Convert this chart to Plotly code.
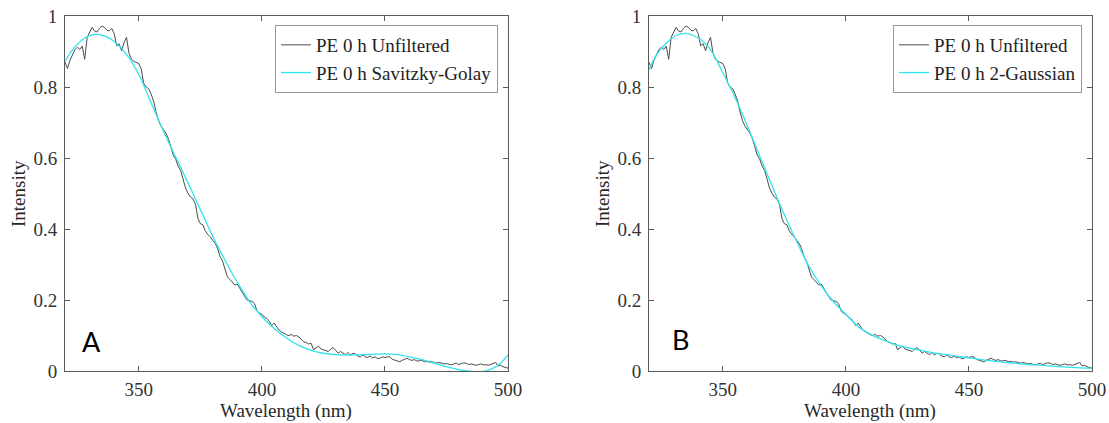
import plotly.graph_objects as go

# ---------------- data ----------------
wavelength = list(range(320, 501))
unfiltered = [
    0.870, 0.852, 0.875, 0.890, 0.905, 0.912, 0.906, 0.915, 0.878, 0.940,  # 320-329
    0.955, 0.968, 0.958, 0.955, 0.965, 0.972, 0.968, 0.960, 0.958, 0.965,  # 330-339
    0.950, 0.916, 0.922, 0.902, 0.925, 0.940, 0.895, 0.878, 0.872, 0.870,  # 340-349
    0.866, 0.850, 0.810, 0.800, 0.795, 0.780, 0.760, 0.730, 0.705, 0.690,  # 350-359
    0.680, 0.670, 0.655, 0.630, 0.608, 0.596, 0.577, 0.565, 0.540, 0.515,  # 360-369
    0.500, 0.490, 0.485, 0.470, 0.430, 0.415, 0.412, 0.395, 0.385, 0.378,  # 370-379
    0.368, 0.360, 0.345, 0.322, 0.310, 0.290, 0.265, 0.258, 0.250, 0.242,  # 380-389
    0.245, 0.232, 0.222, 0.210, 0.200, 0.198, 0.196, 0.190, 0.170, 0.163,  # 390-399
    0.160, 0.152, 0.148, 0.140, 0.128, 0.135, 0.125, 0.115, 0.110, 0.105,  # 400-409
    0.102, 0.100, 0.103, 0.098, 0.100, 0.096, 0.088, 0.082, 0.080, 0.076,  # 410-419
    0.078, 0.060, 0.065, 0.070, 0.062, 0.060, 0.058, 0.055, 0.062, 0.066,  # 420-429
    0.058, 0.050, 0.055, 0.050, 0.046, 0.052, 0.045, 0.050, 0.048, 0.042,  # 430-439
    0.040, 0.045, 0.040, 0.038, 0.042, 0.037, 0.040, 0.035, 0.036, 0.040,  # 440-449
    0.038, 0.040, 0.040, 0.033, 0.030, 0.028, 0.026, 0.030, 0.034, 0.036,  # 450-459
    0.032, 0.030, 0.032, 0.028, 0.029, 0.030, 0.026, 0.027, 0.025, 0.026,  # 460-469
    0.024, 0.022, 0.024, 0.022, 0.020, 0.021, 0.018, 0.017, 0.020, 0.022,  # 470-479
    0.018, 0.020, 0.023, 0.022, 0.018, 0.020, 0.017, 0.016, 0.018, 0.020,  # 480-489
    0.017, 0.018, 0.016, 0.018, 0.020, 0.024, 0.014, 0.016, 0.012, 0.010,  # 490-499
    0.008,                                                                # 500
]

sg_wavelength = [320, 322, 325, 328, 330, 333, 336, 340, 345, 350, 355, 360, 365,
                 370, 375, 380, 385, 390, 395, 400, 405, 410, 415, 420, 425, 430,
                 435, 440, 445, 450, 455, 460, 465, 470, 475, 480, 485, 488, 491,
                 494, 497, 500]
sg_values = [0.871, 0.895, 0.920, 0.938, 0.945, 0.948, 0.944, 0.928, 0.892, 0.835,
             0.755, 0.676, 0.602, 0.530, 0.455, 0.380, 0.312, 0.250, 0.195, 0.153,
             0.120, 0.093, 0.072, 0.058, 0.050, 0.046, 0.045, 0.046, 0.047, 0.048,
             0.046, 0.040, 0.032, 0.022, 0.012, 0.004, -0.001, -0.002, 0.000, 0.008,
             0.022, 0.045]

gauss_wavelength = [320, 323, 327, 331, 335, 338, 342, 345, 350, 355, 360, 365, 370,
                    375, 380, 385, 390, 395, 400, 405, 410, 415, 420, 425, 430, 435,
                    440, 445, 450, 455, 460, 465, 470, 475, 480, 485, 490, 495, 500]
gauss_values = [0.848, 0.890, 0.923, 0.945, 0.951, 0.945, 0.928, 0.905, 0.840, 0.770,
                0.690, 0.605, 0.522, 0.440, 0.365, 0.295, 0.240, 0.195, 0.160, 0.125,
                0.103, 0.088, 0.075, 0.066, 0.059, 0.052, 0.047, 0.042, 0.037, 0.032,
                0.028, 0.024, 0.021, 0.018, 0.016, 0.013, 0.011, 0.009, 0.008]

x_ticks = [350, 400, 450, 500]
y_ticks = [0, 0.2, 0.4, 0.6, 0.8, 1]
y_ticktext = ["0", "0.2", "0.4", "0.6", "0.8", "1"]

# ---------------- layout helpers ----------------
W, H = 1109, 423
def px_x(p): return p / W
def px_y(p): return 1 - p / H

GREY = "rgb(75,75,75)"
CYAN = "rgb(45,228,240)"
SERIF = "Liberation Serif, Times New Roman, serif"

fig = go.Figure()
fig.add_trace(go.Scatter(x=wavelength, y=unfiltered, mode="lines", name="PE 0 h Unfiltered",
                         line=dict(color=GREY, width=1), xaxis="x", yaxis="y", legend="legend"))
fig.add_trace(go.Scatter(x=sg_wavelength, y=sg_values, mode="lines", name="PE 0 h Savitzky-Golay",
                         line=dict(color=CYAN, width=1.3, shape="spline"), xaxis="x", yaxis="y",
                         legend="legend"))
fig.add_trace(go.Scatter(x=wavelength, y=unfiltered, mode="lines", name="PE 0 h Unfiltered",
                         line=dict(color=GREY, width=1), xaxis="x2", yaxis="y2", legend="legend2"))
fig.add_trace(go.Scatter(x=gauss_wavelength, y=gauss_values, mode="lines", name="PE 0 h 2-Gaussian",
                         line=dict(color=CYAN, width=1.3, shape="spline"), xaxis="x2", yaxis="y2",
                         legend="legend2"))

axis_common = dict(showline=True, linecolor="rgb(90,90,90)", linewidth=1, mirror="allticks",
                   ticks="inside", ticklen=5, tickcolor="rgb(90,90,90)", showgrid=False,
                   zeroline=False,
                   tickfont=dict(family=SERIF, size=19, color="rgb(50,50,50)"))

ydom = [px_y(371), px_y(16)]
legend_common = dict(xanchor="right", yanchor="top", bgcolor="white",
                     bordercolor="rgb(150,150,150)", borderwidth=1,
                     font=dict(family=SERIF, size=19, color="rgb(30,30,30)"),
                     tracegroupgap=0, itemwidth=30)
fig.update_layout(
    width=W, height=H, margin=dict(l=0, r=0, t=0, b=0, pad=0, autoexpand=False),
    paper_bgcolor="white", plot_bgcolor="white",
    xaxis=dict(domain=[px_x(65), px_x(508)], range=[320, 500], tickvals=x_ticks, anchor="y",
               ticklabelstandoff=1, **axis_common),
    yaxis=dict(domain=ydom, range=[0, 1], tickvals=y_ticks, ticktext=y_ticktext, anchor="x",
               ticklabelstandoff=3, **axis_common),
    xaxis2=dict(domain=[px_x(649), px_x(1092)], range=[320, 500], tickvals=x_ticks, anchor="y2",
                ticklabelstandoff=1, **axis_common),
    yaxis2=dict(domain=ydom, range=[0, 1], tickvals=y_ticks, ticktext=y_ticktext, anchor="x2",
                ticklabelstandoff=3, **axis_common),
    legend=dict(x=px_x(498), y=px_y(25), **legend_common),
    legend2=dict(x=px_x(1082), y=px_y(25), **legend_common),
    showlegend=True,
)

for cx in (18, 602):
    fig.add_annotation(text="Intensity", xref="paper", yref="paper", x=px_x(cx), y=px_y(194),
                       textangle=-90, showarrow=False, xanchor="center", yanchor="middle",
                       font=dict(family=SERIF, size=19, color="rgb(40,40,40)"))
for cx in (286, 870):
    fig.add_annotation(text="Wavelength (nm)", xref="paper", yref="paper", x=px_x(cx), y=0,
                       showarrow=False, xanchor="center", yanchor="bottom", borderpad=0,
                       font=dict(family=SERIF, size=19, color="rgb(40,40,40)"))
for lbl, cx, cy in [("A", 91, 341), ("B", 680, 339)]:
    fig.add_annotation(text=lbl, xref="paper", yref="paper", x=px_x(cx), y=px_y(cy),
                       showarrow=False, xanchor="center", yanchor="middle",
                       font=dict(family="Lato, Noto Sans, sans-serif", size=27, color="black"))

fig.write_html("out.html")
